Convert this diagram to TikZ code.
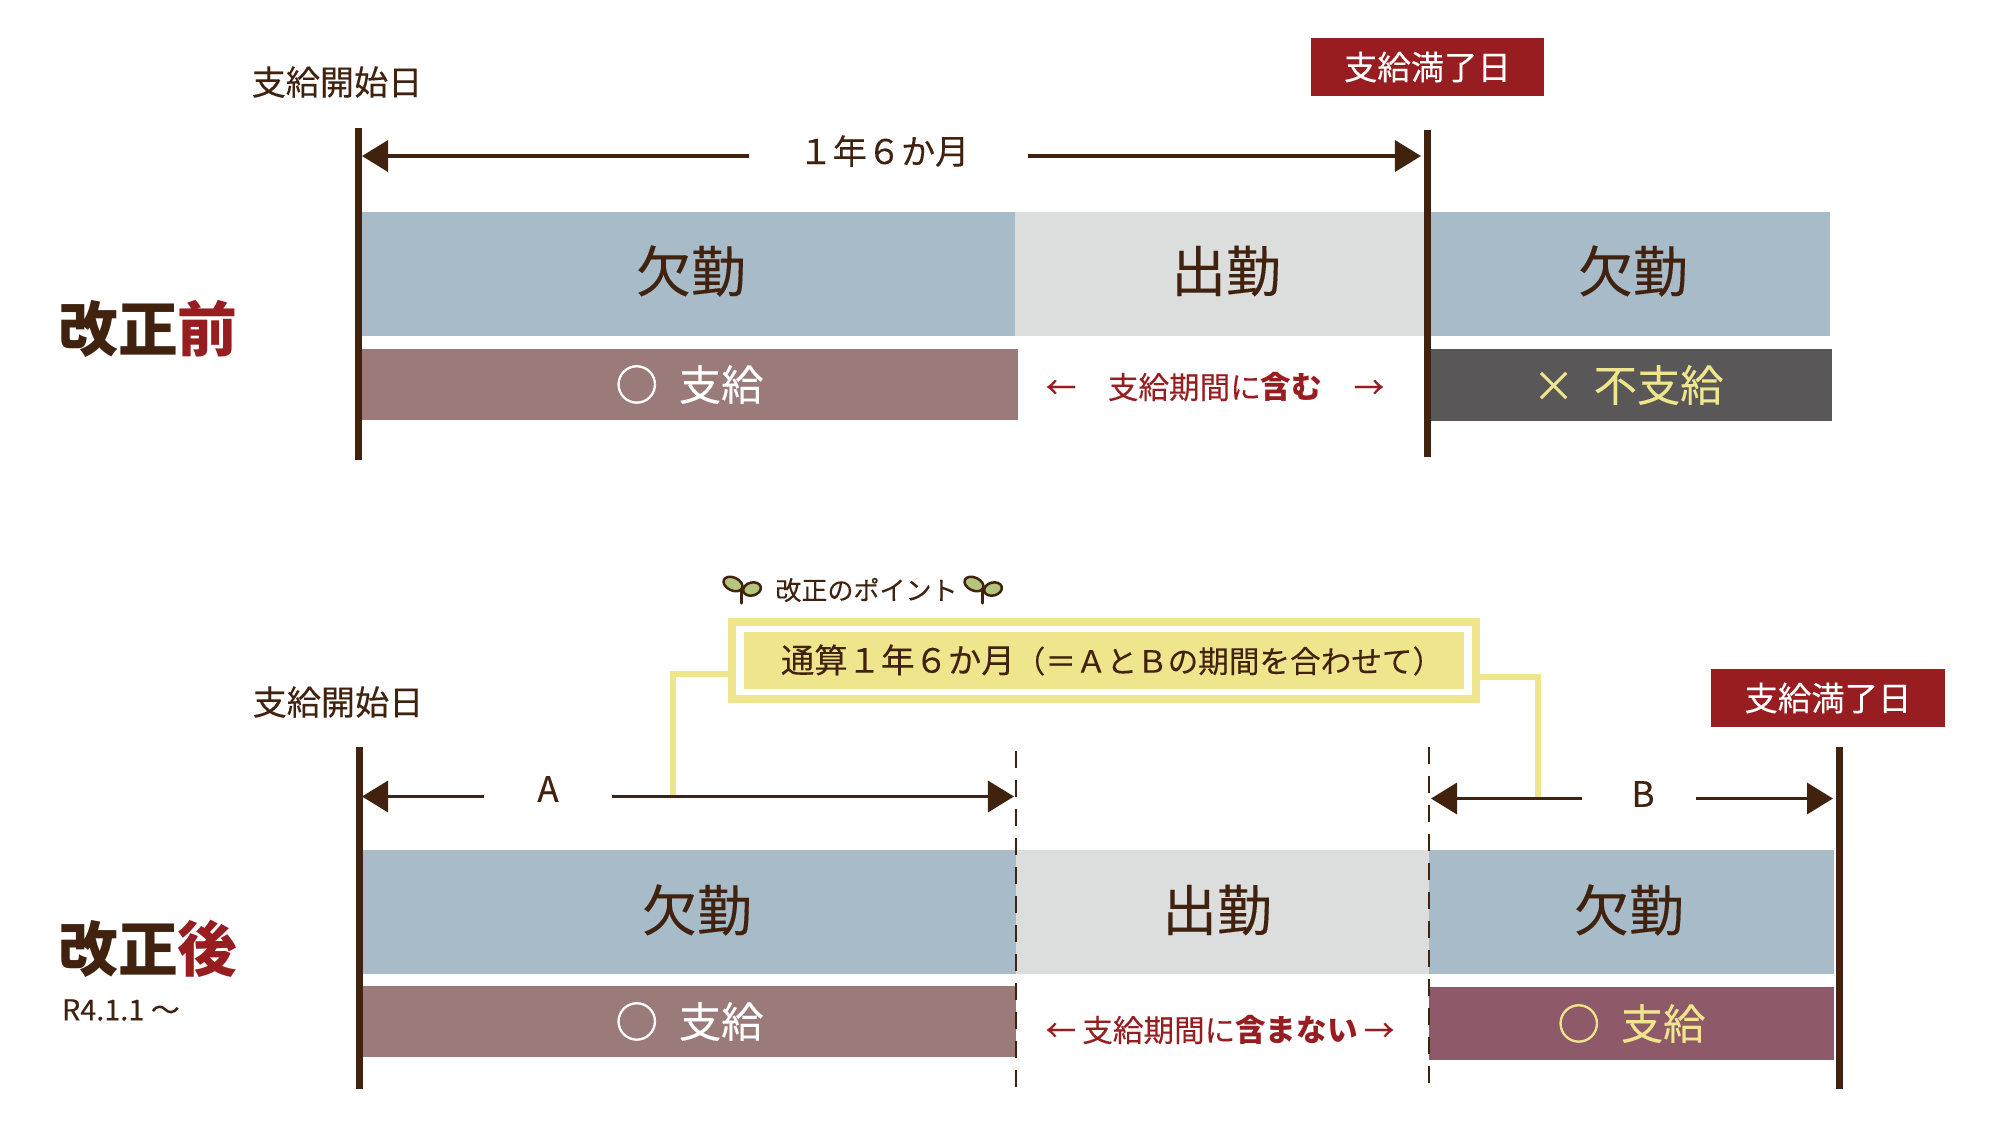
\documentclass[tikz,border=0pt]{standalone}
\usepackage{fontspec}
\setmainfont{Noto Sans CJK JP}[FakeBold=.2,BoldFeatures={FakeBold=0}]
\newfontfamily\ringfont{Noto Sans CJK JP}[FakeBold=1.6]
\usetikzlibrary{arrows.meta,positioning}
\definecolor{dark}{HTML}{40220F}
\definecolor{absentblue}{HTML}{A8BBC9}
\definecolor{workgray}{HTML}{DCDEDE}
\definecolor{paybrown}{HTML}{9B7B79}
\definecolor{nopay}{HTML}{595757}
\definecolor{paymauve}{HTML}{8E5A6A}
\definecolor{deepred}{HTML}{981D20}
\definecolor{softyellow}{HTML}{EEE58D}
\definecolor{leafgreen}{HTML}{B3C67C}
\tikzset{
  box/.style={inner sep=0pt, outer sep=0pt, align=center, text=dark},
  bluebox/.style={box, fill=absentblue, minimum height=1.24cm},
  graybox/.style={bluebox, fill=workgray},
  brownbox/.style={box, fill=paybrown, minimum height=.71cm, text=white, font=\fontsize{12}{14}\selectfont},
  darkbox/.style={brownbox, fill=nopay, text=softyellow},
  mauvebox/.style={brownbox, fill=paymauve, text=softyellow},
  redbox/.style={box, fill=deepred, text=white, minimum width=2.33cm, minimum height=.58cm, font=\fontsize{9.5}{11}\selectfont},
  bigtext/.style={box, font=\fontsize{15.6}{18}\selectfont},
  label/.style={box, font=\fontsize{9.7}{11}\selectfont},
  title/.style={box, font=\fontsize{17}{20}\selectfont\bfseries},
  redlabel/.style={box, text=deepred, font=\fontsize{8.7}{10}\selectfont},
  arrow/.style={-{Triangle[length=.26cm,width=.31cm]}, line width=.035cm, draw=dark},
  barline/.style={line width=.07cm, draw=dark},
  dashline/.style={line width=.028cm, draw=dark, dash pattern=on .17cm off .12cm},
  yellowline/.style={line width=.06cm, draw=softyellow},
  sprout/.pic={
    \draw[dark, line width=.025cm, fill=leafgreen, shift={(-7,-5)}, rotate=-25] (0,0) ellipse [x radius=10, y radius=6.5];
    \draw[dark, line width=.025cm, fill=leafgreen, shift={(12,0)}, rotate=15] (0,0) ellipse [x radius=9, y radius=6.5];
    \draw[dark, line width=.03cm, line cap=round] (1,0) -- (1,14);
  }
}
\begin{document}
\begin{tikzpicture}[x=.01cm, y=-.01cm]
  \useasboundingbox (0,0) rectangle (2002,1132);
  % before the revision
  \node[bluebox, minimum width=6.54cm] (absentA) at (688,274) {};
  \node[graybox, minimum width=4.12cm] (workA) at (1221,274) {};
  \node[bluebox, minimum width=4cm] (absentB) at (1630,274) {};
  \node[bigtext] (absentAtext) at (691,271) {欠勤};
  \node[bigtext] (workAtext) at (1226,271) {出勤};
  \node[bigtext] (absentBtext) at (1633,271) {欠勤};
  \node[brownbox, minimum width=6.57cm] (payA) at (689.5,384.5) {{\ringfont ○}\hspace{.5em}支給};
  \node[darkbox, minimum width=4.02cm] (nopayB) at (1631,385) {×\hspace{.45em}\fontsize{12.3}{14}\selectfont 不支給\hspace*{.06cm}};
  \node[redlabel] (includeA) at (1215,387) {←\hspace{1.03em}支給期間に\textbf{含む}\hspace{1.03em}→};
  \node[title] (before) at (148,329) {改正\textcolor{deepred}{前}};
  \node[label] (startA) at (337,82) {支給開始日};
  \node[redbox] (endA) at (1427.5,67) {支給満了日};
  \node[label, minimum width=2.79cm] (spanA) at (888.5,151) {\hspace*{-.09cm}１年６か月};
  \coordinate (barAtop) at (358,128);
  \coordinate (barAbot) at (358,460);
  \coordinate (barBtop) at (1427,130);
  \coordinate (barBbot) at (1427,457);
  \coordinate (spanAl) at (362,156);
  \coordinate (spanAr) at (1421,156);
  \draw[barline] (barAtop) -- (barAbot);
  \draw[barline] (barBtop) -- (barBbot);
  \draw[arrow] (spanA.west |- spanAl) -- (spanAl);
  \draw[arrow] (spanA.east |- spanAr) -- (spanAr);
  % after the revision
  \node[bluebox, minimum width=6.53cm] (absentC) at (689.5,912) {};
  \node[graybox, minimum width=4.13cm] (workC) at (1222.5,912) {};
  \node[bluebox, minimum width=4.05cm] (absentD) at (1631.5,912) {};
  \node[bigtext] (absentCtext) at (697,910) {欠勤};
  \node[bigtext] (workCtext) at (1217,910) {出勤};
  \node[bigtext] (absentDtext) at (1629,910) {欠勤};
  \node[brownbox, minimum width=6.53cm] (payC) at (689.5,1021.5) {\raisebox{.6pt}{{\ringfont ○}\hspace{.5em}支給}};
  \node[mauvebox, minimum width=4.05cm, minimum height=.73cm] (payD) at (1631.5,1023.5) {\raisebox{.3pt}{{\ringfont ○}\hspace{.5em}支給}};
  \node[redlabel] (excludeC) at (1220,1030) {←\hspace{.2em}支給期間に\textbf{含まない}\hspace{.2em}→};
  \node[title] (after) at (148,949) {改正\textcolor{deepred}{後}};
  \node[box, anchor=west, font=\fontsize{8.2}{10}\selectfont] (since) at (62,1010) {R4.1.1 〜};
  \node[label] (startC) at (338,702) {支給開始日};
  \node[redbox] (endD) at (1828,698) {支給満了日};
  \node[box, font=\fontsize{7.4}{9}\selectfont] (point) at (866.5,590) {改正のポイント};
  \pic at (740,589) {sprout};
  \pic at (981,589) {sprout};
  \node[box, draw=softyellow, line width=.08cm, minimum width=7.44cm, minimum height=.77cm] (ring) at (1104,660.5) {};
  \node[box, fill=softyellow, minimum width=7.2cm, minimum height=.57cm] (sum) at (1104,660.5) {};
  \node[label, font=\fontsize{9.5}{11}\selectfont] (sumtext) at (1112,660) {通算１年６か月{\fontsize{8.7}{10}\selectfont（＝ＡとＢの期間を合わせて）}};
  \node[label, font=\fontsize{10}{12}\selectfont, minimum width=1.28cm] (spanC) at (548,789) {A};
  \node[label, font=\fontsize{10}{12}\selectfont, minimum width=1.14cm] (spanD) at (1639,794) {\hspace*{.08cm}B};
  \coordinate (barCtop) at (359,747);
  \coordinate (barCbot) at (359,1089);
  \coordinate (barDtop) at (1839,747);
  \coordinate (barDbot) at (1839,1089);
  \coordinate (dashCtop) at (1016,751);
  \coordinate (dashCbot) at (1016,1096);
  \coordinate (dashDtop) at (1429,747);
  \coordinate (dashDbot) at (1429,1092);
  \coordinate (spanCl) at (362,796.5);
  \coordinate (spanCr) at (1014,796.5);
  \coordinate (spanDl) at (1431,798.5);
  \coordinate (spanDr) at (1833,798.5);
  \coordinate (dropC) at (673,796.5);
  \coordinate (dropD) at (1538,798.5);
  \draw[barline] (barCtop) -- (barCbot);
  \draw[barline] (barDtop) -- (barDbot);
  \draw[dashline] (dashCtop) -- (dashCbot);
  \draw[dashline] (dashDtop) -- (dashDbot);
  \draw[yellowline] (ring.west |- 0,674) -| (dropC);
  \draw[yellowline] (ring.east |- 0,677) -| (dropD);
  \draw[arrow] (spanC.west |- spanCl) -- (spanCl);
  \draw[arrow] (spanC.east |- spanCr) -- (spanCr);
  \draw[arrow] (spanD.west |- spanDl) -- (spanDl);
  \draw[arrow] (spanD.east |- spanDr) -- (spanDr);
\end{tikzpicture}
\end{document}
